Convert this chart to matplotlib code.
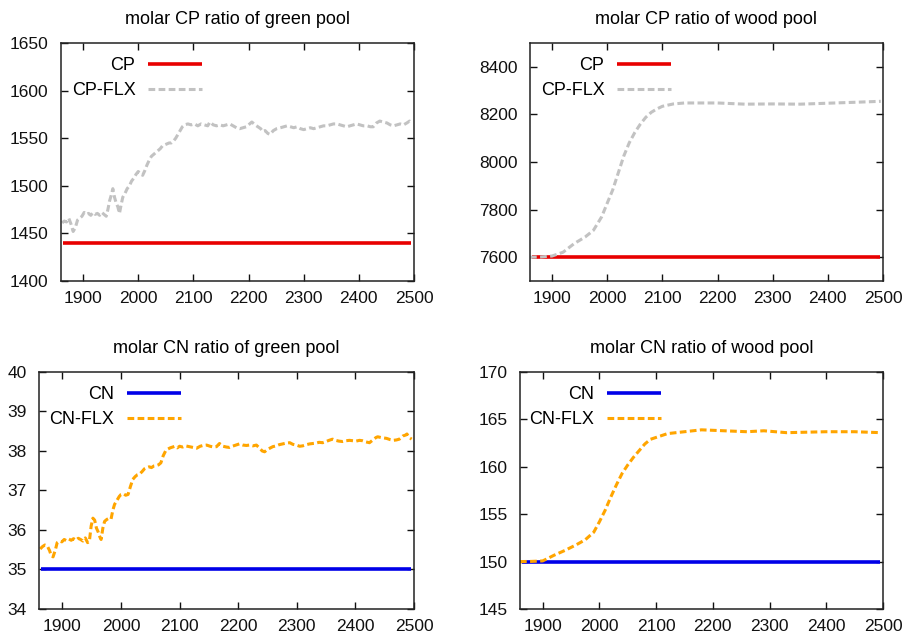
import matplotlib
matplotlib.use("Agg")
import matplotlib.pyplot as plt

plt.rcParams['font.family'] = ['Liberation Sans', 'DejaVu Sans']

# green pool CP (flux-based run)
green_cp_years = [1862, 1866, 1870, 1874, 1878, 1882, 1886, 1890, 1894, 1898, 1902, 1906, 1910, 1914,
                  1918, 1922, 1926, 1930, 1934, 1938, 1942, 1945, 1948, 1951, 1954, 1957, 1960, 1963,
                  1966, 1969, 1972, 1976, 1980, 1984, 1988, 1992, 1996, 2000, 2004, 2008, 2012, 2016,
                  2020, 2024, 2028, 2032, 2036, 2040, 2044, 2048, 2052, 2056, 2060, 2064, 2068, 2072,
                  2076, 2080, 2084, 2090, 2096, 2102, 2108, 2114, 2120, 2126, 2130, 2136, 2142, 2148,
                  2154, 2160, 2166, 2172, 2178, 2184, 2190, 2196, 2202, 2206, 2212, 2217, 2222, 2226,
                  2230, 2235, 2239, 2245, 2251, 2258, 2264, 2270, 2276, 2282, 2288, 2294, 2300, 2306,
                  2312, 2318, 2324, 2330, 2336, 2342, 2348, 2354, 2360, 2366, 2372, 2378, 2384, 2390,
                  2396, 2402, 2408, 2415, 2421, 2426, 2432, 2438, 2444, 2451, 2457, 2463, 2469, 2475,
                  2481, 2487, 2492, 2496]
green_cp_flx = [1461, 1463, 1462, 1466, 1460, 1452, 1456, 1464, 1466, 1468, 1472, 1470, 1471, 1469,
                1472, 1470, 1471, 1469, 1472, 1470, 1468, 1475, 1484, 1490, 1497, 1488, 1482, 1478,
                1471, 1480, 1488, 1492, 1497, 1500, 1505, 1508, 1512, 1515, 1513, 1511, 1516, 1522,
                1527, 1531, 1533, 1535, 1537, 1539, 1542, 1543, 1544, 1545, 1545, 1547, 1550, 1554,
                1558, 1562, 1564, 1565, 1564, 1565, 1563, 1565, 1564, 1563, 1567, 1564, 1563, 1564,
                1563, 1564, 1565, 1563, 1561, 1560, 1561, 1562, 1565, 1567, 1564, 1562, 1560, 1557,
                1558, 1555, 1554, 1558, 1560, 1561, 1562, 1563, 1562, 1561, 1562, 1560, 1559, 1560,
                1561, 1560, 1561, 1562, 1563, 1563, 1564, 1565, 1565, 1564, 1563, 1562, 1563, 1564,
                1565, 1564, 1563, 1563, 1562, 1562, 1566, 1568, 1567, 1566, 1564, 1563, 1564, 1565,
                1564, 1566, 1568, 1566]

# green pool CN (flux-based run)
green_cn_years = [1862, 1866, 1870, 1874, 1878, 1881, 1884, 1888, 1891, 1895, 1899, 1903, 1907, 1911,
                  1915, 1919, 1923, 1927, 1931, 1935, 1939, 1943, 1946, 1949, 1952, 1955, 1958, 1961,
                  1964, 1966, 1969, 1972, 1976, 1980, 1983, 1986, 1989, 1993, 1997, 2000, 2004, 2008,
                  2012, 2016, 2020, 2024, 2028, 2032, 2036, 2040, 2044, 2048, 2052, 2056, 2060, 2064,
                  2068, 2072, 2076, 2080, 2084, 2088, 2092, 2096, 2100, 2105, 2110, 2117, 2123, 2129,
                  2135, 2140, 2146, 2152, 2158, 2163, 2168, 2174, 2180, 2185, 2190, 2196, 2202, 2208,
                  2214, 2219, 2225, 2231, 2236, 2241, 2245, 2250, 2255, 2259, 2265, 2270, 2276, 2282,
                  2288, 2293, 2299, 2305, 2310, 2316, 2322, 2327, 2333, 2338, 2344, 2350, 2355, 2361,
                  2366, 2372, 2378, 2384, 2390, 2395, 2401, 2407, 2412, 2418, 2424, 2430, 2435, 2438,
                  2444, 2449, 2453, 2459, 2465, 2470, 2475, 2481, 2485, 2488, 2491, 2494, 2496]
green_cn_flx = [35.52, 35.58, 35.62, 35.60, 35.48, 35.35, 35.32, 35.50, 35.68, 35.72, 35.70, 35.76,
                35.73, 35.77, 35.74, 35.78, 35.74, 35.79, 35.76, 35.72, 35.80, 35.68, 35.72, 36.10,
                36.30, 36.25, 36.05, 35.95, 35.82, 35.76, 36.05, 36.22, 36.27, 36.30, 36.28, 36.50,
                36.65, 36.75, 36.85, 36.90, 36.92, 36.88, 36.90, 37.10, 37.28, 37.35, 37.40, 37.42,
                37.48, 37.55, 37.58, 37.60, 37.58, 37.62, 37.63, 37.65, 37.70, 37.88, 38.00, 38.05,
                38.08, 38.10, 38.12, 38.08, 38.12, 38.10, 38.13, 38.11, 38.09, 38.07, 38.12, 38.14,
                38.15, 38.12, 38.10, 38.11, 38.19, 38.12, 38.10, 38.09, 38.12, 38.15, 38.18, 38.15,
                38.14, 38.15, 38.13, 38.15, 38.08, 38.00, 37.98, 38.04, 38.08, 38.11, 38.13, 38.16,
                38.18, 38.20, 38.21, 38.17, 38.15, 38.12, 38.13, 38.16, 38.18, 38.19, 38.20, 38.22,
                38.21, 38.24, 38.27, 38.30, 38.27, 38.25, 38.24, 38.26, 38.27, 38.26, 38.25, 38.27,
                38.26, 38.23, 38.21, 38.28, 38.34, 38.36, 38.34, 38.33, 38.32, 38.29, 38.27, 38.28,
                38.30, 38.38, 38.40, 38.43, 38.35, 38.32, 38.30]

# wood pool CP (flux-based run)
wood_cp_years = [1860, 1880, 1900, 1920, 1940, 1960, 1975, 1990, 2000, 2010, 2020, 2030, 2040, 2050,
                 2060, 2070, 2080, 2090, 2100, 2120, 2140, 2160, 2200, 2250, 2300, 2350, 2400, 2450, 2496]
wood_cp_flx = [7600, 7601, 7605, 7621, 7657, 7685, 7713, 7770, 7827, 7883, 7954, 8025, 8081, 8124,
               8159, 8188, 8209, 8223, 8234, 8244, 8248, 8248, 8248, 8243, 8244, 8243, 8247, 8251, 8255]

# wood pool CN (flux-based run)
wood_cn_years = [1860, 1880, 1900, 1920, 1940, 1960, 1975, 1990, 2000, 2010, 2020, 2030, 2040, 2050,
                 2060, 2070, 2080, 2090, 2100, 2120, 2150, 2180, 2220, 2260, 2290, 2330, 2400, 2450, 2496]
wood_cn_flx = [150.0, 150.02, 150.07, 150.67, 151.2, 151.8, 152.3, 153.1, 154.2, 155.4, 156.8, 158.1,
               159.3, 160.2, 161.0, 161.7, 162.4, 162.9, 163.1, 163.5, 163.7, 163.9, 163.8, 163.7,
               163.8, 163.6, 163.7, 163.7, 163.6]

# fixed-ratio runs
fixed_years = [1863, 2495]
green_cp_fixed = [1440, 1440]
wood_cp_fixed = [7600, 7600]
green_cn_fixed = [35, 35]
wood_cn_fixed = [150, 150]

x_ticks = [1900, 2000, 2100, 2200, 2300, 2400, 2500]

RED = '#e80000'
BLUE = '#0000e8'
GRAY = '#c2c2c2'
ORANGE = '#ffa500'

W, H = 912, 644
fig = plt.figure(figsize=(W / 100, H / 100), dpi=100)


def px_axes(left, top, right, bottom):
    return fig.add_axes([left / W, 1 - bottom / H, (right - left) / W, (bottom - top) / H])


def panel(ax, title, years, flx, fixed, fixed_color, flx_color, names, ylim, yticks, leg_x, leg_y):
    ax.plot(fixed_years, fixed, color=fixed_color, lw=2.6, label=names[0], solid_capstyle='butt')
    ax.plot(years, flx, color=flx_color, lw=2.2, dashes=(2.2, 1.1), label=names[1])
    ax.set_xlim(1860, 2500)
    ax.set_ylim(*ylim)
    ax.set_xticks(x_ticks)
    ax.set_yticks(yticks)
    ax.tick_params(direction='in', length=5, width=1, top=True, right=True,
                   labelsize=12.5, colors='#111111')
    ax.tick_params(axis='y', pad=9)
    ax.tick_params(axis='x', pad=7)
    for s in ax.spines.values():
        s.set_linewidth(1.1)
        s.set_color('#222222')
    ax.set_title(title, fontsize=13, pad=14)
    ax.legend(loc='upper right', bbox_to_anchor=(leg_x, leg_y), markerfirst=False, frameon=False,
              fontsize=13, handlelength=3.0, handletextpad=0.7, labelspacing=0.45,
              borderaxespad=0, borderpad=0)


ax1 = px_axes(61, 43, 414, 281)
panel(ax1, 'molar CP ratio of green pool', green_cp_years, green_cp_flx, green_cp_fixed, RED, GRAY,
      ['CP', 'CP-FLX'], (1400, 1650), [1400, 1450, 1500, 1550, 1600, 1650], 0.40, 0.94)

ax2 = px_axes(530, 43, 883, 281)
panel(ax2, 'molar CP ratio of wood pool', wood_cp_years, wood_cp_flx, wood_cp_fixed, RED, GRAY,
      ['CP', 'CP-FLX'], (7500, 8500), [7600, 7800, 8000, 8200, 8400], 0.40, 0.94)

ax3 = px_axes(39, 372, 414, 609)
panel(ax3, 'molar CN ratio of green pool', green_cn_years, green_cn_flx, green_cn_fixed, BLUE, ORANGE,
      ['CN', 'CN-FLX'], (34, 40), [34, 35, 36, 37, 38, 39, 40], 0.378, 0.94)

ax4 = px_axes(520, 372, 883, 609)
panel(ax4, 'molar CN ratio of wood pool', wood_cn_years, wood_cn_flx, wood_cn_fixed, BLUE, ORANGE,
      ['CN', 'CN-FLX'], (145, 170), [145, 150, 155, 160, 165, 170], 0.388, 0.94)

fig.savefig('out.png', dpi=100)
